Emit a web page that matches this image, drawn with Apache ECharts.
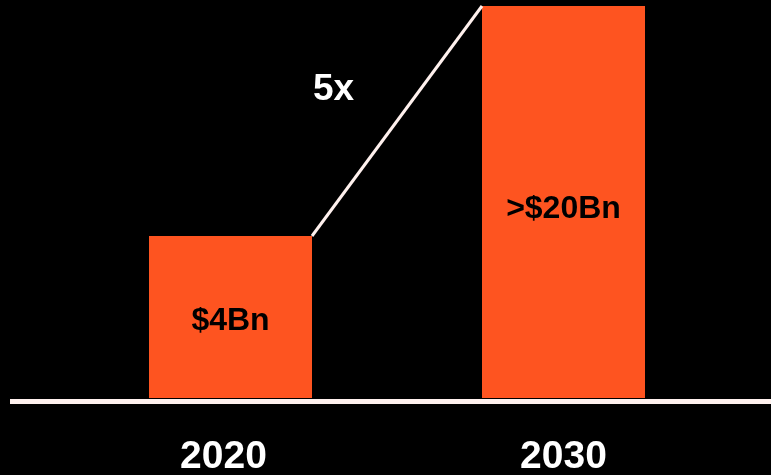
<!DOCTYPE html>
<html>
<head>
<meta charset="utf-8">
<title>Market size 2020 vs 2030</title>
<script src="https://cdn.jsdelivr.net/npm/echarts@6/dist/echarts.min.js"></script>
<style>
  html, body { margin: 0; padding: 0; background: #000; }
  #chart { width: 771px; height: 475px; }
</style>
</head>
<body>
<div id="chart"></div>
<script>
// Market size, in billions of dollars
const categories = ['2020', '2030'];
const values = [4, 20];
const valueLabels = ['$4Bn', '>$20Bn'];
const growthLabel = '5x';

const FONT = "'Liberation Sans', Arial, Helvetica, sans-serif";
const ORANGE = '#fe5420';
const LINE_WHITE = '#fff1ee';
const GRID = { left: 64, right: 41, top: 6, bottom: 77 };
const BAR_W = 163;
// Small per-bar nudges for the value labels and year labels
const LABEL_NUDGE = [[0, 4], [0, 7]];
const YEAR_PAD = [[0, 14, 0, 0], [0, 0, 0, 0]];

const chart = echarts.init(document.getElementById('chart'), null, { renderer: 'canvas' });
const W = chart.getWidth();
const H = chart.getHeight();

// Half a bar, in units of the category band, so the connector meets the bar corners
const band = (W - GRID.left - GRID.right) / categories.length;
const half = BAR_W / 2 / band;
const connector = [
  [0 + half, values[0]],
  [1 - half, values[1]]
];

chart.setOption({
  backgroundColor: '#000',
  animation: false,
  grid: Object.assign({ containLabel: false, outerBoundsMode: 'none' }, GRID),
  xAxis: [
    {
      type: 'category',
      data: categories.map((c, i) => ({ value: c, textStyle: { padding: YEAR_PAD[i] } })),
      axisLine: { show: false },
      axisTick: { show: false },
      axisLabel: {
        color: '#fff',
        fontFamily: FONT,
        fontWeight: 'bold',
        fontSize: 39,
        margin: 40
      }
    },
    {
      type: 'value',
      min: -0.5,
      max: categories.length - 0.5,
      show: false
    }
  ],
  yAxis: {
    type: 'log',
    min: 1.2874,
    max: 20,
    show: false
  },
  series: [
    {
      type: 'bar',
      xAxisIndex: 0,
      data: values.map((v, i) => ({ value: v, label: { offset: LABEL_NUDGE[i] } })),
      barWidth: BAR_W,
      clip: true,
      itemStyle: { color: ORANGE },
      label: {
        show: true,
        position: 'inside',
        color: '#000',
        fontFamily: FONT,
        fontWeight: 'bold',
        fontSize: 32,
        formatter: p => valueLabels[p.dataIndex]
      }
    },
    {
      type: 'line',
      xAxisIndex: 1,
      data: connector,
      symbol: 'none',
      z: 5,
      lineStyle: { color: LINE_WHITE, width: 3, cap: 'butt' }
    }
  ],
  graphic: [
    {
      type: 'rect',
      left: 10,
      top: H - GRID.bottom + 1,
      shape: { width: W - 10, height: 5 },
      style: { fill: LINE_WHITE }
    },
    {
      type: 'text',
      left: 313,
      top: 71,
      style: {
        text: growthLabel,
        fill: '#fff',
        font: 'bold 37px ' + FONT
      }
    }
  ]
});
</script>
</body>
</html>
